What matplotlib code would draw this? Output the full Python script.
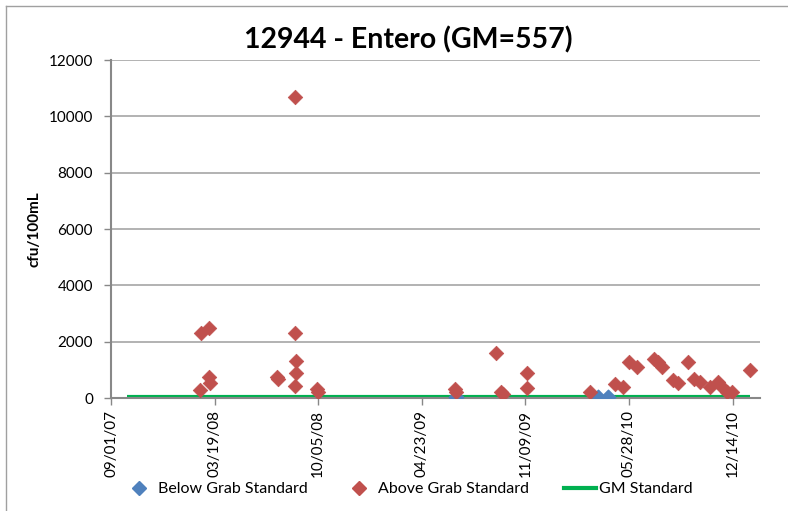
import matplotlib
matplotlib.use("Agg")
import matplotlib.pyplot as plt
import matplotlib.dates as mdates
from matplotlib.lines import Line2D
import datetime as dt

plt.rcParams['font.family'] = ['Lato', 'DejaVu Sans']

base = dt.date(2007, 9, 1)

# days after 09/01/07 and values (cfu/100mL)
above_days = [174, 189, 190, 191, 172, 355, 356, 358, 358, 355, 321, 322, 397, 399,
              665, 667, 744, 753, 757, 804, 804, 925, 973, 989, 1001, 1015,
              1049, 1057, 1064, 1085, 1094, 1114, 1126, 1137, 1156, 1172, 1179,
              1189, 1198, 1234]
above_vals = [2300, 2500, 760, 550, 300, 2320, 10700, 1310, 880, 430, 760, 660, 310, 230,
              320, 200, 1590, 200, 150, 880, 350, 230, 490, 390, 1270, 1110,
              1380, 1270, 1110, 640, 550, 1290, 680, 580, 390, 580, 380,
              220, 220, 980]
below_days = [666, 940, 960]
below_vals = [20, 40, 40]
gm_days = [31, 1234]
gm_vals = [35, 35]

tick_days = [0, 200, 400, 600, 800, 1000, 1200]
y_ticks = [0, 2000, 4000, 6000, 8000, 10000, 12000]

to_date = lambda d: base + dt.timedelta(days=d)

fig = plt.figure(figsize=(7.88, 5.11), dpi=100)
W, H = 788, 511
ax = fig.add_axes([111 / W, 1 - 398 / H, (760 - 111) / W, (398 - 60) / H])

ax.plot([to_date(d) for d in gm_days], gm_vals, color='#00B050', lw=3, zorder=2,
        solid_capstyle='butt')
ax.scatter([to_date(d) for d in below_days], below_vals, marker='D', s=55,
           color='#4F81BD', edgecolors='#4F81BD', zorder=3)
ax.scatter([to_date(d) for d in above_days], above_vals, marker='D', s=55,
           color='#C0504D', edgecolors='#C0504D', linewidths=0.5, zorder=4)

ax.set_xlim(to_date(0), to_date(1253))
ax.set_ylim(0, 12000)
ax.set_yticks(y_ticks)
ax.set_yticklabels([str(v) for v in y_ticks], fontsize=11)
ax.set_xticks([to_date(d) for d in tick_days])
ax.xaxis.set_major_formatter(mdates.DateFormatter('%m/%d/%y'))
for lab in ax.get_xticklabels():
    lab.set_rotation(90)
    lab.set_fontsize(11)
ax.tick_params(axis='both', length=5, color='#888888', width=1)
ax.tick_params(axis='y', pad=8)
ax.grid(axis='y', color='#A6A6A6', lw=1.2)
ax.set_axisbelow(True)
for s in ['top', 'right']:
    ax.spines[s].set_visible(False)
ax.spines['left'].set_color('#888888')
ax.spines['left'].set_linewidth(1.5)
ax.spines['bottom'].set_color('#888888')
ax.spines['bottom'].set_linewidth(1.5)

ax.set_ylabel('cfu/100mL', fontsize=11, fontweight='bold', labelpad=5)
fig.text(408 / W, 1 - 40 / H, '12944 - Entero (GM=557)', fontsize=20.5,
         fontweight='bold', ha='center', va='center')

handles = [Line2D([], [], marker='D', ls='none', color='#4F81BD', markersize=7),
           Line2D([], [], marker='D', ls='none', color='#C0504D', markersize=7),
           Line2D([], [], color='#00B050', lw=3)]
fig.legend(handles, ['Below Grab Standard', 'Above Grab Standard', 'GM Standard'],
           loc='center', bbox_to_anchor=(408 / W, 1 - 489 / H), ncol=3, frameon=False,
           fontsize=11.5, handlelength=2, columnspacing=2.2, handletextpad=0.2)

fig.add_artist(Line2D([6 / W, 6 / W], [0, 1 - 6 / H], color='#A0A0A0', lw=1,
                      transform=fig.transFigure))
fig.add_artist(Line2D([6 / W, 1], [1 - 6 / H, 1 - 6 / H], color='#A0A0A0', lw=1,
                      transform=fig.transFigure))

fig.savefig('out.png', dpi=100)
